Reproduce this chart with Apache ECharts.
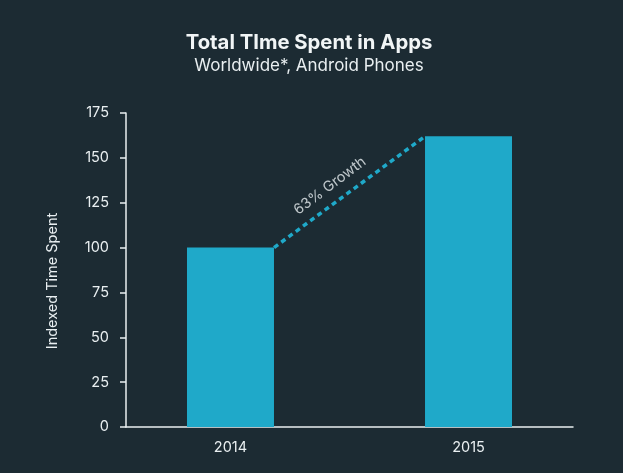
<!DOCTYPE html>
<html>
<head>
<meta charset="utf-8">
<script src="https://cdn.jsdelivr.net/npm/echarts@6/dist/echarts.min.js"></script>
<style>
  html, body { margin: 0; padding: 0; background: #1c2b33; }
  #main { width: 623px; height: 473px; }
</style>
</head>
<body>
<div id="main"></div>
<script>
const years = [2014, 2015];
const values = [100, 162];
const growthLineX = [2014.183, 2014.817];
const growthLineY = [100, 162];
const growthLabel = '63% Growth';
const growthLabelPos = [2014.418, 134.4];

const textColor = '#e9eff1';
const barColor = '#1fa9c9';
const font = 'Inter';

let myChart = echarts.init(document.getElementById('main'));
let option = {
    backgroundColor: '#1c2b33',
    animation: false,
    title: {
        text: 'Total TIme Spent in Apps',
        subtext: 'Worldwide*, Android Phones',
        left: 304,
        top: 28,
        textAlign: 'center',
        itemGap: 4,
        textStyle: { color: '#f1f5f6', fontFamily: font, fontWeight: 700, fontSize: 20.3 },
        subtextStyle: { color: textColor, fontFamily: font, fontSize: 17 }
    },
    grid: { left: 126, right: 50, top: 113, bottom: 46 },
    xAxis: {
        type: 'value',
        min: 2013.561,
        max: 2015.439,
        splitLine: { show: false },
        axisLine: { show: true, lineStyle: { color: textColor, width: 1.5 } },
        axisTick: { show: false },
        axisLabel: {
            customValues: years,
            formatter: v => String(v),
            color: textColor,
            fontFamily: font,
            fontSize: 14.5,
            margin: 13
        }
    },
    yAxis: {
        type: 'value',
        min: 0,
        max: 175,
        interval: 25,
        name: 'Indexed Time Spent',
        nameLocation: 'middle',
        nameGap: 66,
        nameTextStyle: { color: textColor, fontFamily: font, fontSize: 14.5, padding: [0, 22, 0, 0] },
        splitLine: { show: false },
        axisLine: { show: true, lineStyle: { color: textColor, width: 1.5 } },
        axisTick: { show: true, length: 6, lineStyle: { color: textColor, width: 1.5 } },
        axisLabel: { color: textColor, fontFamily: font, fontSize: 14.5, margin: 17 }
    },
    series: [
        {
            type: 'bar',
            barWidth: 87,
            itemStyle: { color: barColor },
            data: years.map((y, i) => [y, values[i]])
        },
        {
            type: 'line',
            symbol: 'none',
            lineStyle: { color: barColor, width: 3.5, type: [5, 4] },
            data: growthLineX.map((x, i) => [x, growthLineY[i]])
        },
        {
            type: 'scatter',
            symbolSize: 0,
            label: {
                show: true,
                position: 'inside',
                formatter: growthLabel,
                rotate: 37,
                color: textColor,
                fontFamily: font,
                fontSize: 14.5
            },
            data: [growthLabelPos]
        }
    ]
};
option && myChart.setOption(option);
</script>
</body>
</html>
